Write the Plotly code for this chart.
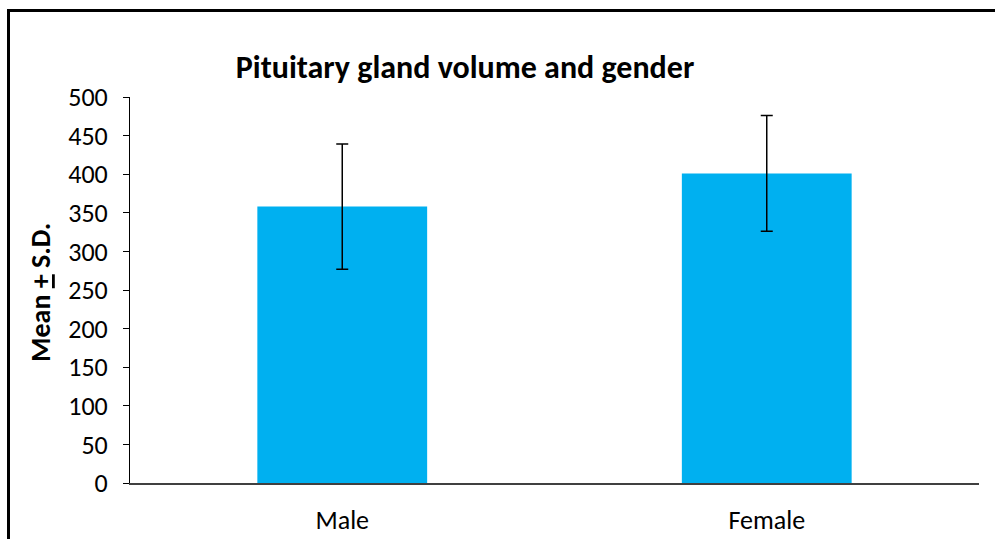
import plotly.graph_objects as go

categories = ["Male", "Female"]
means = [358, 401]
sd = [81, 75]
y_ticks = [0, 50, 100, 150, 200, 250, 300, 350, 400, 450, 500]

W, H = 995, 539
L, T = 130, 97
R = W - 979
B = H - 483
pw, ph = W - L - R, H - T - B

def px_x(px):
    return (px - L) / pw

def px_y(py):
    return (H - B - py) / ph

FONT = "Carlito, Lato, sans-serif"

fig = go.Figure()
fig.add_trace(go.Bar(
    x=categories, y=means,
    marker=dict(color="#00B0F0", line=dict(width=0)),
    error_y=dict(type="data", array=sd, visible=True, color="black", thickness=1.5, width=6),
    width=0.4,
))

fig.update_layout(
    width=W, height=H,
    margin=dict(l=L, r=R, t=T, b=B, pad=0, autoexpand=False),
    paper_bgcolor="white", plot_bgcolor="white",
    showlegend=False,
    title=dict(text="<b>Pituitary gland volume and gender</b>", x=px_x(465), xref="paper",
               xanchor="center", y=1 - 66.5 / H, yanchor="middle",
               font=dict(family=FONT, size=32, color="black")),
    font=dict(family=FONT, color="black"),
    xaxis=dict(showline=True, linecolor="#404040", linewidth=1.5, ticks="", showgrid=False,
               automargin=False,
               tickfont=dict(size=26, color="black"), ticklabelstandoff=13),
    yaxis=dict(range=[0, 500], tickvals=y_ticks, showline=True, linecolor="black", linewidth=1,
               ticks="outside", ticklen=6, tickcolor="black", showgrid=False, zeroline=False,
               automargin=False,
               tickfont=dict(size=26, color="black"), ticklabelstandoff=10),
    annotations=[
        dict(text="<b>Mean <u>+</u> S.D.</b>", xref="paper", yref="paper",
             x=px_x(40), y=px_y(293), xanchor="center", yanchor="middle",
             textangle=-90, showarrow=False, font=dict(family=FONT, size=28, color="black")),
    ],
    shapes=[
        dict(type="line", xref="paper", yref="paper", x0=px_x(8.5), x1=px_x(8.5),
             y0=px_y(10.5), y1=px_y(560), line=dict(color="black", width=3)),
        dict(type="line", xref="paper", yref="paper", x0=px_x(7), x1=px_x(1010),
             y0=px_y(10.5), y1=px_y(10.5), line=dict(color="black", width=3)),
    ],
)

fig.write_html("out.html", config={"displayModeBar": False},
               post_script="document.body.style.margin='0';document.body.style.overflow='hidden';")
